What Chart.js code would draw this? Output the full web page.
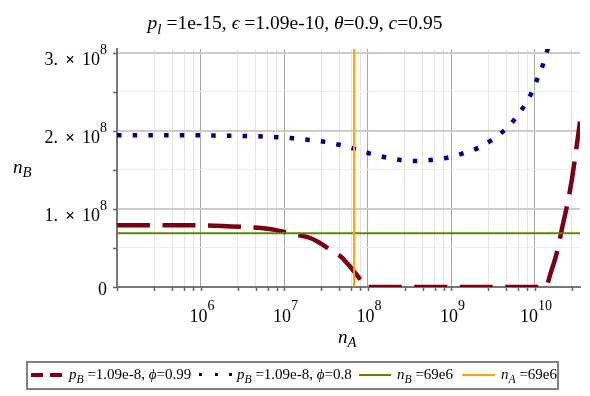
<!DOCTYPE html>
<html lang="en">
<head>
<meta charset="UTF-8">
<title>n_B against n_A</title>
<script src="https://cdn.jsdelivr.net/npm/chart.js"></script>
<style>
    body {
        margin: 0;
        background: #fff;
        font-family: 'Liberation Serif', 'Times New Roman', serif;
        color: #000;
    }
    .wrap { position: relative; width: 590px; height: 396px; overflow: hidden; }
    #chart { position: absolute; left: 0; top: 0; }
    .title {
        position: absolute; left: 0; top: 13px; width: 590px;
        text-align: center; font-size: 19.5px; line-height: 19px; white-space: nowrap;
    }
    .sub { font-size: 0.78em; position: relative; top: 0.3em; font-style: italic; }
    .axt { position: absolute; font-size: 19px; line-height: 19px; font-style: italic; white-space: nowrap; }
    .legend {
        position: absolute; left: 26px; top: 361px; width: 529px; height: 25px;
        border: 2px solid #808080; font-size: 15px;
    }
    .legend .txt { position: absolute; top: 4px; line-height: 15px; white-space: nowrap; }
    .sw { position: absolute; }
</style>
</head>
<body>
<div class="wrap">
    <canvas id="chart" width="590" height="396"></canvas>
    <div class="title"><i>p</i><span class="sub">l</span> =1e-15, <i>ϵ</i> =1.09e-10, <i>θ</i>=0.9, <i>c</i>=0.95</div>
    <div class="axt" style="left:13px; top:157px;">n<span class="sub">B</span></div>
    <div class="axt" style="left:338px; top:327px;">n<span class="sub">A</span></div>
    <div class="legend">
        <div class="sw" style="left:3px; top:10px; width:12px; height:4px; background:#7a0016;"></div>
        <div class="sw" style="left:22px; top:10px; width:12px; height:4px; background:#7a0016;"></div>
        <div class="txt" style="left:41px;"><i>p</i><span class="sub">B</span> =1.09e-8, <i>ϕ</i>=0.99</div>
        <div class="sw" style="left:171px; top:10px; width:3px; height:3px; background:#000080;"></div>
        <div class="sw" style="left:187px; top:10px; width:3px; height:3px; background:#000080;"></div>
        <div class="sw" style="left:201px; top:10px; width:3px; height:3px; background:#000080;"></div>
        <div class="txt" style="left:209px;"><i>p</i><span class="sub">B</span> =1.09e-8, <i>ϕ</i>=0.8</div>
        <div class="sw" style="left:331px; top:11px; width:32px; height:2px; background:#568a00;"></div>
        <div class="txt" style="left:369px;"><i>n</i><span class="sub">B</span> =69e6</div>
        <div class="sw" style="left:434px; top:11px; width:33px; height:2px; background:#ffa500;"></div>
        <div class="txt" style="left:473px;"><i>n</i><span class="sub">A</span> =69e6</div>
    </div>
</div>

<script>
    // phi = 0.99 curve (dashed, burgundy)
    const redNA = [1e5, 1e6, 3.16e6, 7.08e6, 1e7, 1.58e7, 2.09e7, 2.63e7, 3.31e7, 3.98e7, 4.79e7, 5.75e7,
                   6.92e7, 8.13e7, 9.33e7, 1.35e10, 1.58e10, 1.86e10, 2.14e10, 2.40e10, 2.75e10, 3.02e10, 3.5e10];
    const redNB = [7.9e7, 7.9e7, 7.7e7, 7.4e7, 7.05e7, 6.6e7, 6.25e7, 5.7e7, 5.0e7, 4.45e7, 3.9e7, 3.0e7,
                   1.96e7, 1.0e7, 0, 0, 2.0e7, 4.5e7, 7.6e7, 1.0e8, 1.33e8, 1.62e8, 2.12e8];

    // phi = 0.8 curve (dotted, navy)
    const blueNA = [1e5, 1e6, 1.48e6, 3.55e6, 8.32e6, 1.29e7, 2.0e7, 3.09e7, 4.68e7, 7.41e7, 1.07e8, 1.66e8,
                    2.57e8, 3.89e8, 6.03e8, 9.33e8, 1.41e9, 2.14e9, 3.09e9, 4.37e9, 5.89e9, 7.59e9, 9.33e9,
                    1.10e10, 1.29e10, 1.45e10, 1.55e10];
    const blueNB = [1.945e8, 1.945e8, 1.94e8, 1.935e8, 1.92e8, 1.905e8, 1.885e8, 1.86e8, 1.82e8, 1.765e8, 1.71e8, 1.66e8,
                    1.625e8, 1.615e8, 1.63e8, 1.66e8, 1.715e8, 1.785e8, 1.885e8, 2.01e8, 2.16e8, 2.33e8, 2.50e8,
                    2.69e8, 2.88e8, 3.07e8, 3.2e8];

    // reference lines
    const greenNB = 69e6;
    const orangeNA = 69e6;

    // axes
    const xMin = 1e5, xMax = 3.5e10;
    const yMin = 0, yMax = 3.05e8;
    const xDecades = [6, 7, 8, 9, 10];
    const xMinorSteps = [1, 2.8, 4.6, 6.4, 8.2];   // maple splits each decade linearly in 5
    const yTickValues = [0, 1e8, 2e8, 3e8];
    const yTickMantissas = ['0', '1.', '2.', '3.'];

    const pairs = (xs, ys) => xs.map((x, i) => ({ x: x, y: ys[i] }));

    function isDecade(v) {
        const l = Math.log10(v);
        return Math.abs(l - Math.round(l)) < 1e-6;
    }

    // tick labels, tick marks (Maple style with superscripts)
    const axisDecor = {
        id: 'axisDecor',
        afterDraw(chart) {
            const ctx = chart.ctx;
            const xs = chart.scales.x, ys = chart.scales.y;
            const area = chart.chartArea;
            ctx.save();
            ctx.fillStyle = '#000';
            ctx.strokeStyle = '#666';
            ctx.lineWidth = 1.5;

            // tick marks
            xs.ticks.forEach(t => {
                const px = Math.round(xs.getPixelForValue(t.value)) + 0.5;
                ctx.beginPath();
                ctx.moveTo(px, area.bottom);
                ctx.lineTo(px, area.bottom + 4);
                ctx.stroke();
            });
            ys.ticks.forEach(t => {
                const py = Math.round(ys.getPixelForValue(t.value)) + 0.5;
                ctx.beginPath();
                ctx.moveTo(area.left - 4, py);
                ctx.lineTo(area.left, py);
                ctx.stroke();
            });

            // x labels 10^k
            ctx.textBaseline = 'alphabetic';
            ctx.textAlign = 'left';
            xDecades.forEach(d => {
                const px = xs.getPixelForValue(Math.pow(10, d));
                ctx.font = '18px "Liberation Serif"';
                const w1 = ctx.measureText('10').width;
                ctx.font = '14px "Liberation Serif"';
                const w2 = ctx.measureText(String(d)).width;
                const x0 = px + 1.5 - (w1 + w2) / 2;
                ctx.font = '18px "Liberation Serif"';
                ctx.fillText('10', x0, 322);
                ctx.font = '14px "Liberation Serif"';
                ctx.fillText(String(d), x0 + w1, 310);
            });

            // y labels  m. x 10^8
            const right = 107;
            yTickValues.forEach((v, i) => {
                const py = ys.getPixelForValue(v);
                ctx.textAlign = 'left';
                if (v === 0) {
                    ctx.font = '18px "Liberation Serif"';
                    ctx.textAlign = 'right';
                    ctx.fillText('0', right, py + 8);
                    return;
                }
                ctx.font = '14px "Liberation Serif"';
                const wExp = ctx.measureText('8').width;
                ctx.fillText('8', right - wExp, py + 1);
                ctx.font = '18px "Liberation Serif"';
                const tenLeft = right - wExp - ctx.measureText('10').width;
                ctx.fillText('10', tenLeft, py + 12.5);
                ctx.textAlign = 'center';
                ctx.font = 'bold 17px "Liberation Serif"';
                ctx.fillText('\u00d7', tenLeft - 12, py + 12);
                ctx.textAlign = 'right';
                ctx.font = '18px "Liberation Serif"';
                ctx.fillText(yTickMantissas[i], tenLeft - 24, py + 12.5);
            });
            ctx.restore();
        }
    };

    new Chart(document.getElementById('chart'), {
        type: 'line',
        data: {
            datasets: [
                {
                    label: 'p_B=1.09e-8, phi=0.99',
                    data: pairs(redNA, redNB),
                    borderColor: '#7a0016',
                    borderWidth: 4.5,
                    borderDash: [33, 12.5],
                    borderCapStyle: 'butt',
                    pointRadius: 0,
                    cubicInterpolationMode: 'monotone',
                    order: 4
                },
                {
                    label: 'p_B=1.09e-8, phi=0.8',
                    data: pairs(blueNA, blueNB),
                    borderColor: '#000080',
                    borderWidth: 4.5,
                    borderDash: [4.5, 11.2],
                    borderCapStyle: 'butt',
                    pointRadius: 0,
                    cubicInterpolationMode: 'monotone',
                    order: 3
                },
                {
                    label: 'n_B=69e6',
                    data: [{ x: xMin, y: greenNB }, { x: xMax, y: greenNB }],
                    borderColor: '#568a00',
                    borderWidth: 2,
                    pointRadius: 0,
                    order: 2
                },
                {
                    label: 'n_A=69e6',
                    data: [{ x: orangeNA, y: yMin }, { x: orangeNA, y: yMax }],
                    borderColor: '#ffa500',
                    borderWidth: 2,
                    pointRadius: 0,
                    order: 1
                }
            ]
        },
        options: {
            responsive: false,
            animation: false,
            events: [],
            layout: { padding: { left: 117, right: 10, top: 49, bottom: 109 } },
            plugins: {
                legend: { display: false },
                title: { display: false },
                tooltip: { enabled: false }
            },
            scales: {
                x: {
                    type: 'logarithmic',
                    min: xMin,
                    max: xMax,
                    afterBuildTicks: scale => {
                        const ticks = [];
                        for (let e = 5; e <= 10; e++) {
                            xMinorSteps.forEach(k => {
                                const v = k * Math.pow(10, e);
                                if (v >= xMin && v <= xMax) ticks.push({ value: v });
                            });
                        }
                        scale.ticks = ticks;
                    },
                    ticks: { display: false },
                    grid: {
                        drawTicks: false,
                        color: c => c.tick && isDecade(c.tick.value) ? '#a8a8a8' : '#e4e4e4',
                        lineWidth: 1
                    },
                    border: { display: true, color: '#777', width: 2 }
                },
                y: {
                    type: 'linear',
                    min: yMin,
                    max: yMax,
                    afterBuildTicks: scale => {
                        const ticks = [];
                        for (let v = 0; v <= 3e8 + 1; v += 5e7) ticks.push({ value: v });
                        scale.ticks = ticks;
                    },
                    ticks: { display: false },
                    grid: {
                        drawTicks: false,
                        color: c => c.tick && Math.round(c.tick.value / 5e7) % 2 === 0 ? '#cccccc' : '#eeeeee',
                        lineWidth: c => c.tick && Math.round(c.tick.value / 5e7) % 2 === 0 ? 2 : 1
                    },
                    border: { display: true, color: '#777', width: 2 }
                }
            }
        },
        plugins: [axisDecor]
    });
</script>
</body>
</html>
